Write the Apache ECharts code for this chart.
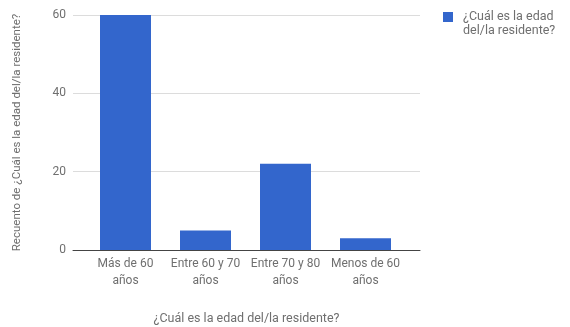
<!DOCTYPE html>
<html>
<head>
<meta charset="utf-8">
<script src="https://cdn.jsdelivr.net/npm/echarts@6/dist/echarts.min.js"></script>
<style>
  html, body { margin: 0; padding: 0; background: #fff; }
  #chart { width: 570px; height: 327px; }
</style>
</head>
<body>
<div id="chart"></div>
<script>
// Age groups of residents and their counts
const categories = ['Más de 60\naños', 'Entre 60 y 70\naños', 'Entre 70 y 80\naños', 'Menos de 60\naños'];
const counts = [60, 5, 22, 3];
const yTicks = { min: 0, max: 60, interval: 20 };
const seriesName = '¿Cuál es la edad del/la residente?';
const legendLines = ['¿Cuál es la edad', 'del/la residente?'];
const xTitle = '¿Cuál es la edad del/la residente?';
const yTitle = 'Recuento de ¿Cuál es la edad del/la residente?';

const textColor = '#6f6f6f';
const font = 'Roboto, "Noto Sans", sans-serif';

const chart = echarts.init(document.getElementById('chart'), null, { renderer: 'canvas' });

chart.setOption({
  animation: false,
  textStyle: { fontFamily: font },
  legend: {
    left: 443,
    top: -4,
    padding: 0,
    orient: 'vertical',
    icon: 'rect',
    itemWidth: 10,
    itemHeight: 10,
    textStyle: {
      color: textColor, fontSize: 12.5, lineHeight: 14,
      padding: [0, 0, 0, 5], fontFamily: font
    },
    // a leading blank line keeps the swatch level with the first text line
    formatter: () => '\n' + legendLines.join('\n'),
    data: [seriesName]
  },
  grid: [
    // frame grid: gridlines, baseline and titles
    { left: 73, right: 150, top: 15, bottom: 77, outerBoundsMode: 'none' },
    // bar grid: the category band
    { left: 85.5, right: 164.5, top: 15, bottom: 77, outerBoundsMode: 'none' }
  ],
  xAxis: [
    {
      gridIndex: 0,
      type: 'value',
      min: 0, max: 1,
      axisLine: { show: true, lineStyle: { color: '#444', width: 1 } },
      axisTick: { show: false },
      axisLabel: { show: false },
      splitLine: { show: false },
      name: xTitle,
      nameLocation: 'middle',
      nameGap: 62,
      nameTextStyle: { color: textColor, fontSize: 12.5, fontFamily: font }
    },
    {
      gridIndex: 1,
      type: 'category',
      data: categories,
      axisLine: { show: false },
      axisTick: { show: false },
      axisLabel: {
        color: textColor, fontSize: 12, lineHeight: 17, margin: 5,
        interval: 0, fontFamily: font
      }
    }
  ],
  yAxis: [
    {
      gridIndex: 0,
      type: 'value',
      min: yTicks.min, max: yTicks.max, interval: yTicks.interval,
      axisLine: { show: false },
      axisTick: { show: false },
      axisLabel: { color: textColor, fontSize: 12, margin: 7, fontFamily: font },
      splitLine: { lineStyle: { color: '#dcdcdc', width: 1 } },
      name: yTitle,
      nameLocation: 'middle',
      nameGap: 50,
      nameRotate: 90,
      nameTextStyle: { color: textColor, fontSize: 11.5, fontFamily: font }
    },
    {
      gridIndex: 1,
      type: 'value',
      min: yTicks.min, max: yTicks.max, interval: yTicks.interval,
      show: false
    }
  ],
  series: [
    {
      name: seriesName,
      type: 'bar',
      xAxisIndex: 1,
      yAxisIndex: 1,
      data: counts,
      barWidth: 51,
      itemStyle: { color: '#3366cc' },
      z: 3
    }
  ]
});
</script>
</body>
</html>
